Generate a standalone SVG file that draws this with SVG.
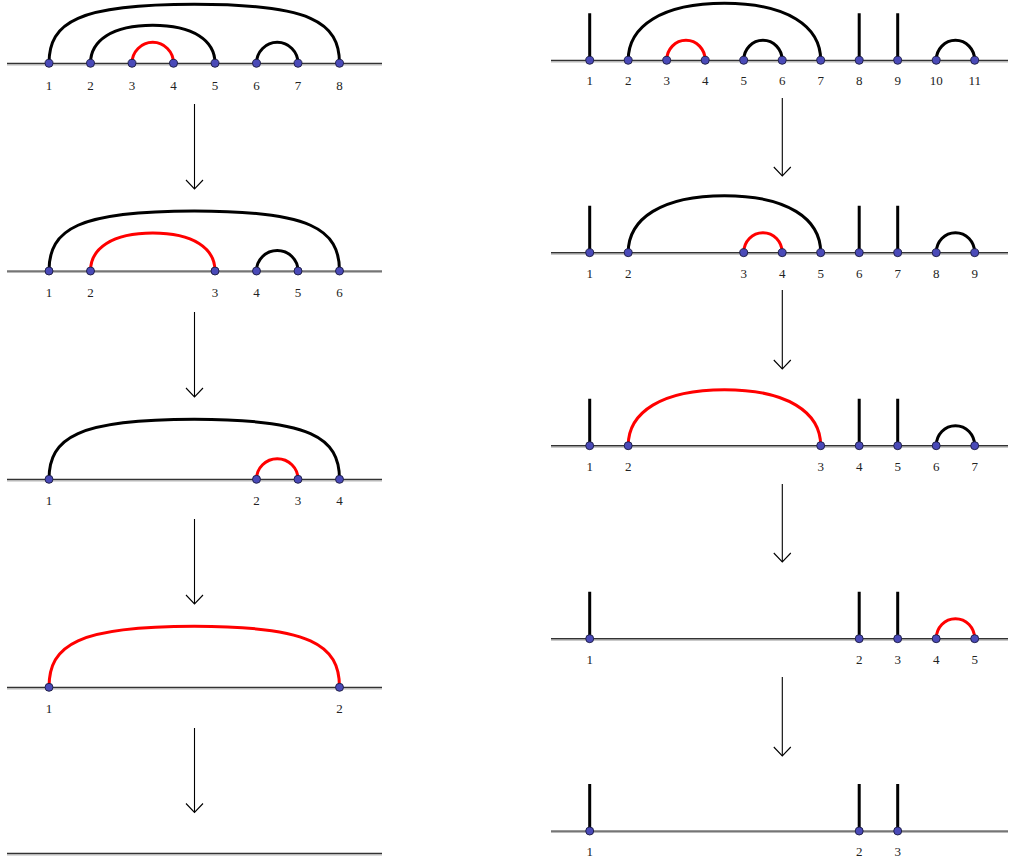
<svg xmlns="http://www.w3.org/2000/svg" width="1010" height="863" viewBox="0 0 1010 863">
<style>
.base-s{stroke:#b8b8b8;stroke-width:2.2;fill:none}
.base{stroke:#333;stroke-width:1.2;fill:none}
.arc{stroke:#000;stroke-width:3;fill:none}
.red{stroke:#ff0000;stroke-width:3;fill:none}
.stick{stroke:#000;stroke-width:3;fill:none}
.dot{fill:#4a4ab8;stroke:#1a1a40;stroke-width:0.9}
.lbl{font-family:"Liberation Serif",serif;font-size:13px;fill:#222;text-anchor:middle}
.arr{stroke:#000;stroke-width:1.1;fill:none}
</style>
<defs>
<marker id="vh" markerUnits="userSpaceOnUse" markerWidth="20" markerHeight="20" refX="0" refY="0" orient="auto" overflow="visible">
<path d="M-9,-8.5 L0,0 L-9,8.5" stroke="#000" stroke-width="1.1" fill="none"/>
</marker>
</defs>
<g id="baselines">
<path class="base-s" d="M7,64.3H382M7,272H382M7,480.3H382M7,688.3H382M7,854.3H382"/>
<path class="base" d="M7,63.3H382M7,271H382M7,479.3H382M7,687.3H382M7,853.3H382"/>
<path class="base-s" d="M551,61.3H1008M551,253.7H1008M551,446.7H1008M551,639.7H1008M551,832H1008"/>
<path class="base" d="M551,60.3H1008M551,252.7H1008M551,445.7H1008M551,638.7H1008M551,831H1008"/>
</g>
<g id="connectors">
<!-- left panel 1 -->
<path class="arc" d="M49,63.3C49,22 78.05,4.3 194.25,4.3C310.45,4.3 339.5,22 339.5,63.3"/>
<path class="arc" d="M90.5,63.3C90.5,40.5 112.3,25.3 152.75,25.3C193.2,25.3 215,40.5 215,63.3"/>
<path class="red" d="M132,63.3A20.75,21 0 0 1 173.5,63.3"/>
<path class="arc" d="M256.5,63.3A20.75,21 0 0 1 298,63.3"/>
<!-- left panel 2 -->
<path class="arc" d="M49,271C49,229 78.05,211 194.25,211C310.45,211 339.5,229 339.5,271"/>
<path class="red" d="M90.5,271C90.5,248.2 112.3,233 152.75,233C193.2,233 215,248.2 215,271"/>
<path class="arc" d="M256.5,271A20.75,20.5 0 0 1 298,271"/>
<!-- left panel 3 -->
<path class="arc" d="M49,479.3C49,437.3 78.05,419.3 194.25,419.3C310.45,419.3 339.5,437.3 339.5,479.3"/>
<path class="red" d="M256.5,479.3A20.75,20.5 0 0 1 298,479.3"/>
<!-- left panel 4 -->
<path class="red" d="M49,687.3C49,644.6 78.05,626.3 194.25,626.3C310.45,626.3 339.5,644.6 339.5,687.3"/>
<!-- right panel 1 -->
<path class="stick" d="M589.7,60.3V13.3M859.2,60.3V13.3M897.7,60.3V13.3"/>
<path class="arc" d="M628.2,60.3C628.2,26.1 661.9,3.3 724.45,3.3C787,3.3 820.7,26.1 820.7,60.3"/>
<path class="red" d="M666.7,60.3A19.25,20 0 0 1 705.2,60.3"/>
<path class="arc" d="M743.7,60.3A19.25,20 0 0 1 782.2,60.3"/>
<path class="arc" d="M936.2,60.3A19.25,20 0 0 1 974.7,60.3"/>
<!-- right panel 2 -->
<path class="stick" d="M589.7,252.7V205.7M859.2,252.7V205.7M897.7,252.7V205.7"/>
<path class="arc" d="M628.2,252.7C628.2,218.5 661.9,195.7 724.45,195.7C787,195.7 820.7,218.5 820.7,252.7"/>
<path class="red" d="M743.7,252.7A19.25,20 0 0 1 782.2,252.7"/>
<path class="arc" d="M936.2,252.7A19.25,20 0 0 1 974.7,252.7"/>
<!-- right panel 3 -->
<path class="stick" d="M589.7,445.7V398.7M859.2,445.7V398.7M897.7,445.7V398.7"/>
<path class="red" d="M628.2,445.7C628.2,412.1 661.9,389.7 724.45,389.7C787,389.7 820.7,412.1 820.7,445.7"/>
<path class="arc" d="M936.2,445.7A19.25,20 0 0 1 974.7,445.7"/>
<!-- right panel 4 -->
<path class="stick" d="M589.7,638.7V591.7M859.2,638.7V591.7M897.7,638.7V591.7"/>
<path class="red" d="M936.2,638.7A19.25,20 0 0 1 974.7,638.7"/>
<!-- right panel 5 -->
<path class="stick" d="M589.7,831V784M859.2,831V784M897.7,831V784"/>
<!-- arrows -->
<path class="arr" marker-end="url(#vh)" d="M194.5,104V189"/>
<path class="arr" marker-end="url(#vh)" d="M194.5,312V397"/>
<path class="arr" marker-end="url(#vh)" d="M194.5,519V604"/>
<path class="arr" marker-end="url(#vh)" d="M194.5,728V812.5"/>
<path class="arr" marker-end="url(#vh)" d="M782.3,98V176"/>
<path class="arr" marker-end="url(#vh)" d="M782.3,290V369"/>
<path class="arr" marker-end="url(#vh)" d="M782.3,484V562"/>
<path class="arr" marker-end="url(#vh)" d="M782.3,677V756"/>
</g>
<!-- left panel 1 nodes -->
<g id="L1-1"><circle class="dot" cx="49" cy="63.3" r="4"/><text class="lbl" x="49" y="89.5">1</text></g>
<g id="L1-2"><circle class="dot" cx="90.5" cy="63.3" r="4"/><text class="lbl" x="90.5" y="89.5">2</text></g>
<g id="L1-3"><circle class="dot" cx="132" cy="63.3" r="4"/><text class="lbl" x="132" y="89.5">3</text></g>
<g id="L1-4"><circle class="dot" cx="173.5" cy="63.3" r="4"/><text class="lbl" x="173.5" y="89.5">4</text></g>
<g id="L1-5"><circle class="dot" cx="215" cy="63.3" r="4"/><text class="lbl" x="215" y="89.5">5</text></g>
<g id="L1-6"><circle class="dot" cx="256.5" cy="63.3" r="4"/><text class="lbl" x="256.5" y="89.5">6</text></g>
<g id="L1-7"><circle class="dot" cx="298" cy="63.3" r="4"/><text class="lbl" x="298" y="89.5">7</text></g>
<g id="L1-8"><circle class="dot" cx="339.5" cy="63.3" r="4"/><text class="lbl" x="339.5" y="89.5">8</text></g>
<!-- left panel 2 -->
<g id="L2-1"><circle class="dot" cx="49" cy="271" r="4"/><text class="lbl" x="49" y="297">1</text></g>
<g id="L2-2"><circle class="dot" cx="90.5" cy="271" r="4"/><text class="lbl" x="90.5" y="297">2</text></g>
<g id="L2-3"><circle class="dot" cx="215" cy="271" r="4"/><text class="lbl" x="215" y="297">3</text></g>
<g id="L2-4"><circle class="dot" cx="256.5" cy="271" r="4"/><text class="lbl" x="256.5" y="297">4</text></g>
<g id="L2-5"><circle class="dot" cx="298" cy="271" r="4"/><text class="lbl" x="298" y="297">5</text></g>
<g id="L2-6"><circle class="dot" cx="339.5" cy="271" r="4"/><text class="lbl" x="339.5" y="297">6</text></g>
<!-- left panel 3 -->
<g id="L3-1"><circle class="dot" cx="49" cy="479.3" r="4"/><text class="lbl" x="49" y="505.3">1</text></g>
<g id="L3-2"><circle class="dot" cx="256.5" cy="479.3" r="4"/><text class="lbl" x="256.5" y="505.3">2</text></g>
<g id="L3-3"><circle class="dot" cx="298" cy="479.3" r="4"/><text class="lbl" x="298" y="505.3">3</text></g>
<g id="L3-4"><circle class="dot" cx="339.5" cy="479.3" r="4"/><text class="lbl" x="339.5" y="505.3">4</text></g>
<!-- left panel 4 -->
<g id="L4-1"><circle class="dot" cx="49" cy="687.3" r="4"/><text class="lbl" x="49" y="713.3">1</text></g>
<g id="L4-2"><circle class="dot" cx="339.5" cy="687.3" r="4"/><text class="lbl" x="339.5" y="713.3">2</text></g>
<!-- right panel 1 -->
<g id="R1-1"><circle class="dot" cx="589.7" cy="60.3" r="4"/><text class="lbl" x="589.7" y="85">1</text></g>
<g id="R1-2"><circle class="dot" cx="628.2" cy="60.3" r="4"/><text class="lbl" x="628.2" y="85">2</text></g>
<g id="R1-3"><circle class="dot" cx="666.7" cy="60.3" r="4"/><text class="lbl" x="666.7" y="85">3</text></g>
<g id="R1-4"><circle class="dot" cx="705.2" cy="60.3" r="4"/><text class="lbl" x="705.2" y="85">4</text></g>
<g id="R1-5"><circle class="dot" cx="743.7" cy="60.3" r="4"/><text class="lbl" x="743.7" y="85">5</text></g>
<g id="R1-6"><circle class="dot" cx="782.2" cy="60.3" r="4"/><text class="lbl" x="782.2" y="85">6</text></g>
<g id="R1-7"><circle class="dot" cx="820.7" cy="60.3" r="4"/><text class="lbl" x="820.7" y="85">7</text></g>
<g id="R1-8"><circle class="dot" cx="859.2" cy="60.3" r="4"/><text class="lbl" x="859.2" y="85">8</text></g>
<g id="R1-9"><circle class="dot" cx="897.7" cy="60.3" r="4"/><text class="lbl" x="897.7" y="85">9</text></g>
<g id="R1-10"><circle class="dot" cx="936.2" cy="60.3" r="4"/><text class="lbl" x="936.2" y="85">10</text></g>
<g id="R1-11"><circle class="dot" cx="974.7" cy="60.3" r="4"/><text class="lbl" x="974.7" y="85">11</text></g>
<!-- right panel 2 -->
<g id="R2-1"><circle class="dot" cx="589.7" cy="252.7" r="4"/><text class="lbl" x="589.7" y="277.5">1</text></g>
<g id="R2-2"><circle class="dot" cx="628.2" cy="252.7" r="4"/><text class="lbl" x="628.2" y="277.5">2</text></g>
<g id="R2-3"><circle class="dot" cx="743.7" cy="252.7" r="4"/><text class="lbl" x="743.7" y="277.5">3</text></g>
<g id="R2-4"><circle class="dot" cx="782.2" cy="252.7" r="4"/><text class="lbl" x="782.2" y="277.5">4</text></g>
<g id="R2-5"><circle class="dot" cx="820.7" cy="252.7" r="4"/><text class="lbl" x="820.7" y="277.5">5</text></g>
<g id="R2-6"><circle class="dot" cx="859.2" cy="252.7" r="4"/><text class="lbl" x="859.2" y="277.5">6</text></g>
<g id="R2-7"><circle class="dot" cx="897.7" cy="252.7" r="4"/><text class="lbl" x="897.7" y="277.5">7</text></g>
<g id="R2-8"><circle class="dot" cx="936.2" cy="252.7" r="4"/><text class="lbl" x="936.2" y="277.5">8</text></g>
<g id="R2-9"><circle class="dot" cx="974.7" cy="252.7" r="4"/><text class="lbl" x="974.7" y="277.5">9</text></g>
<!-- right panel 3 -->
<g id="R3-1"><circle class="dot" cx="589.7" cy="445.7" r="4"/><text class="lbl" x="589.7" y="470.5">1</text></g>
<g id="R3-2"><circle class="dot" cx="628.2" cy="445.7" r="4"/><text class="lbl" x="628.2" y="470.5">2</text></g>
<g id="R3-3"><circle class="dot" cx="820.7" cy="445.7" r="4"/><text class="lbl" x="820.7" y="470.5">3</text></g>
<g id="R3-4"><circle class="dot" cx="859.2" cy="445.7" r="4"/><text class="lbl" x="859.2" y="470.5">4</text></g>
<g id="R3-5"><circle class="dot" cx="897.7" cy="445.7" r="4"/><text class="lbl" x="897.7" y="470.5">5</text></g>
<g id="R3-6"><circle class="dot" cx="936.2" cy="445.7" r="4"/><text class="lbl" x="936.2" y="470.5">6</text></g>
<g id="R3-7"><circle class="dot" cx="974.7" cy="445.7" r="4"/><text class="lbl" x="974.7" y="470.5">7</text></g>
<!-- right panel 4 -->
<g id="R4-1"><circle class="dot" cx="589.7" cy="638.7" r="4"/><text class="lbl" x="589.7" y="663.5">1</text></g>
<g id="R4-2"><circle class="dot" cx="859.2" cy="638.7" r="4"/><text class="lbl" x="859.2" y="663.5">2</text></g>
<g id="R4-3"><circle class="dot" cx="897.7" cy="638.7" r="4"/><text class="lbl" x="897.7" y="663.5">3</text></g>
<g id="R4-4"><circle class="dot" cx="936.2" cy="638.7" r="4"/><text class="lbl" x="936.2" y="663.5">4</text></g>
<g id="R4-5"><circle class="dot" cx="974.7" cy="638.7" r="4"/><text class="lbl" x="974.7" y="663.5">5</text></g>
<!-- right panel 5 -->
<g id="R5-1"><circle class="dot" cx="589.7" cy="831" r="4"/><text class="lbl" x="589.7" y="856">1</text></g>
<g id="R5-2"><circle class="dot" cx="859.2" cy="831" r="4"/><text class="lbl" x="859.2" y="856">2</text></g>
<g id="R5-3"><circle class="dot" cx="897.7" cy="831" r="4"/><text class="lbl" x="897.7" y="856">3</text></g>
</svg>
